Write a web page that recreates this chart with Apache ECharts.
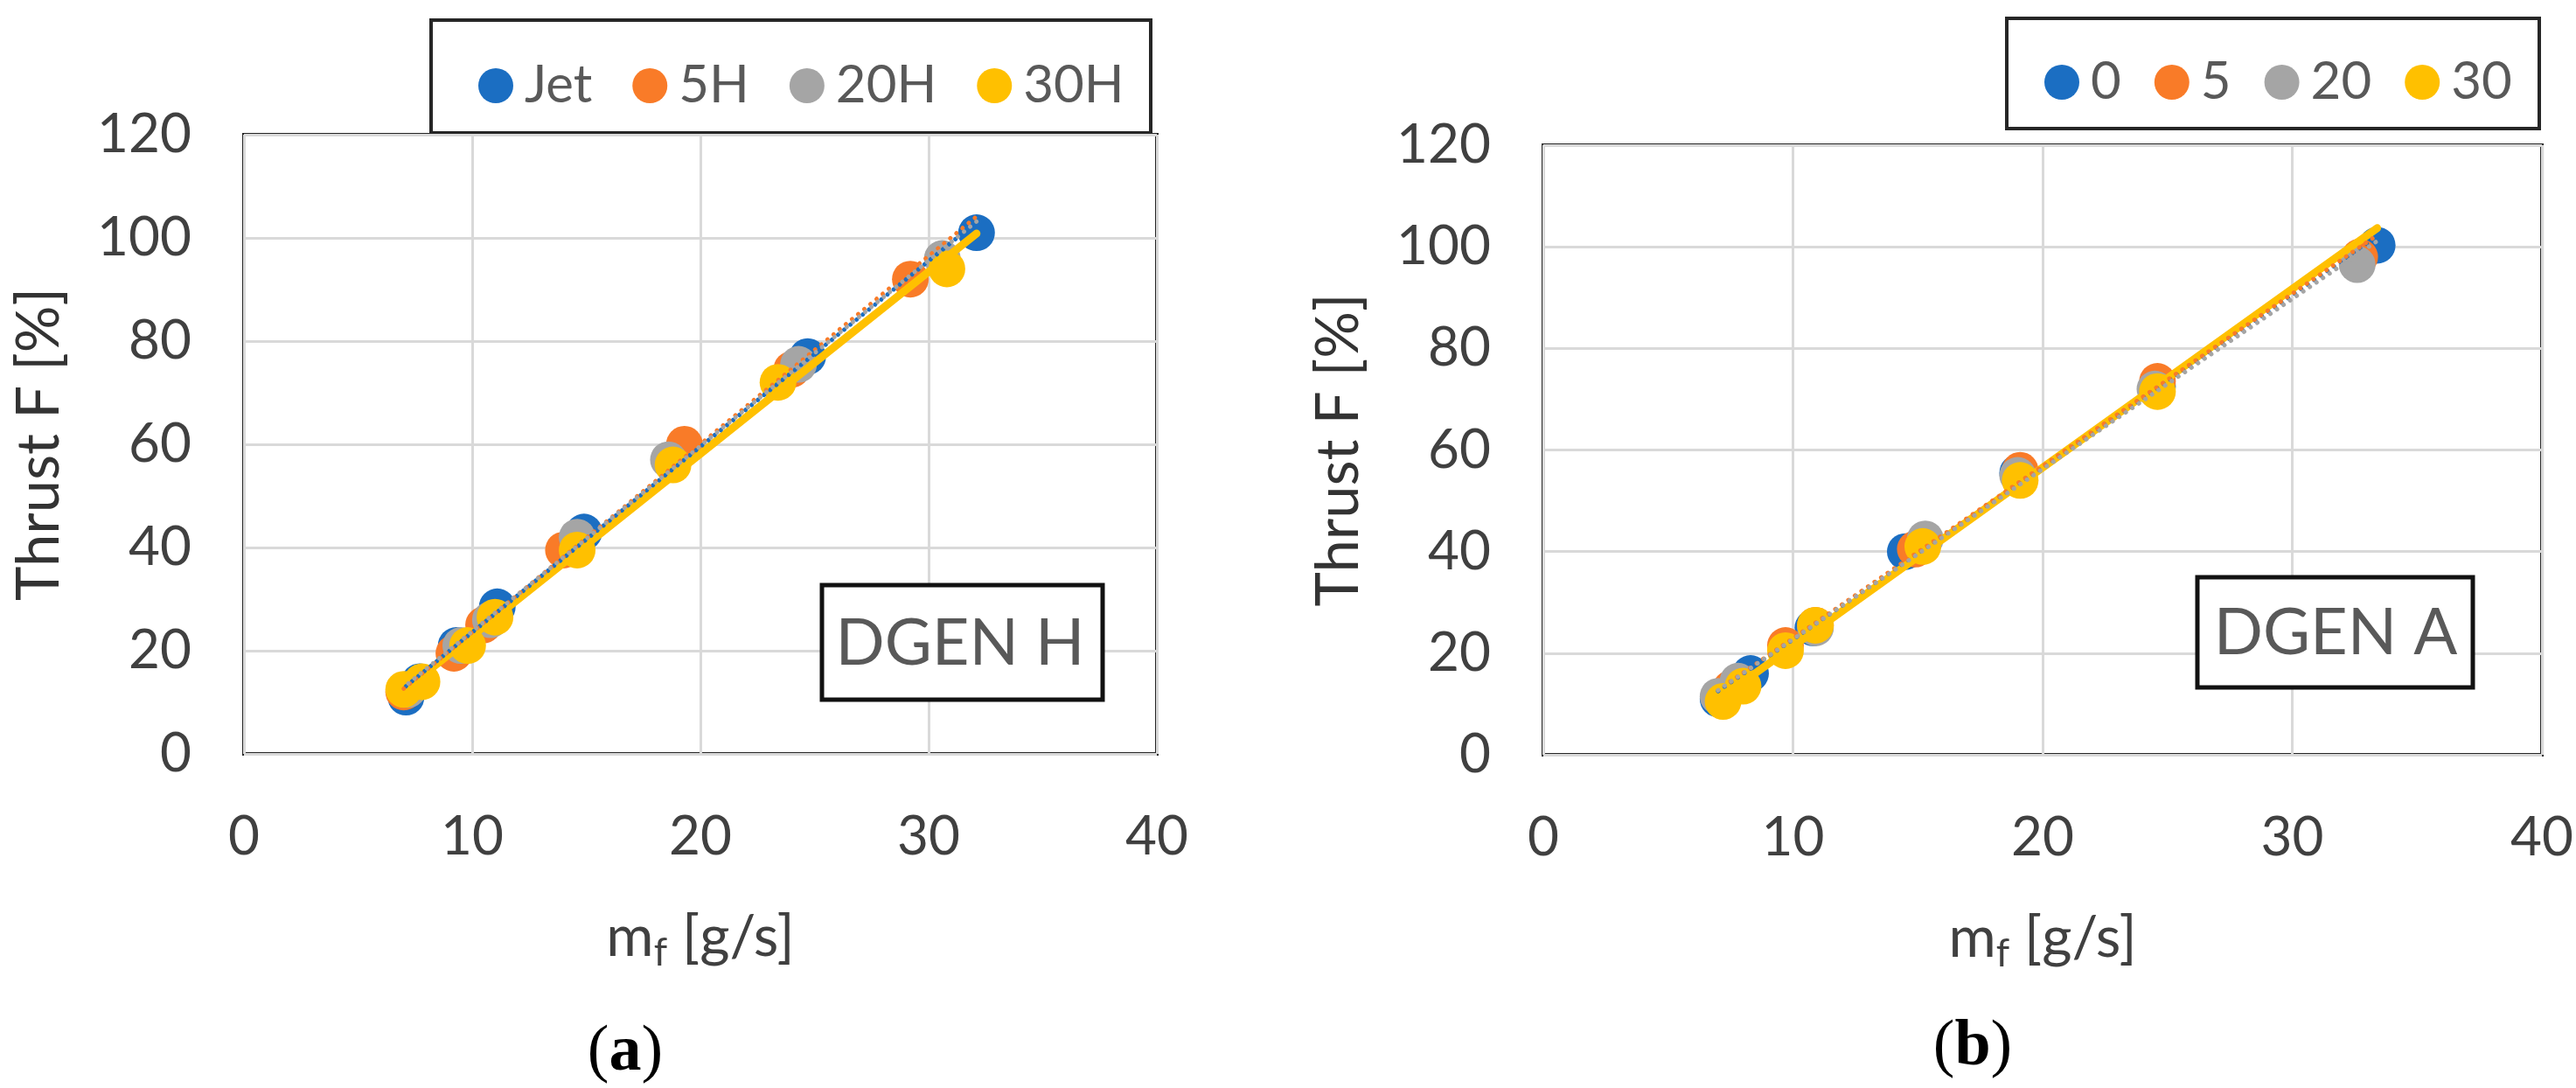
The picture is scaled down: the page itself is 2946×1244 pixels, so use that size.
<!DOCTYPE html>
<html><head><meta charset="utf-8">
<script src="https://cdn.jsdelivr.net/npm/echarts@6/dist/echarts.min.js"></script>
<style>html,body{margin:0;padding:0;background:#fff}#c{width:2946px;height:1244px}</style>
</head><body><div id="c"></div>
<script>
// ---- Data: chart (a) DGEN H ----
const namesA = ['Jet', '5H', '20H', '30H'];
const jetA  = [[7.1,11],[7.7,14],[9.3,21],[11.1,28.5],[14.9,43],[18.7,57],[24.7,77],[32.1,101]];
const h5A   = [[7.0,12],[9.2,19.5],[10.5,25],[14.0,39.5],[19.3,60],[24.0,74.5],[29.2,92]];
const h20A  = [[7.2,12.5],[9.5,21],[10.8,26],[14.6,42],[18.6,57],[24.3,75.5],[30.6,96]];
const h30A  = [[7.0,12.5],[7.8,14],[9.8,21],[11.0,26.5],[14.6,39.5],[18.8,56],[23.4,72],[30.8,94]];
// ---- Data: chart (b) DGEN A ----
const namesB = ['0', '5', '20', '30'];
const s0B   = [[7.0,11],[8.3,16],[10.8,25],[14.5,40],[19.0,55.5],[24.6,72.5],[33.4,100.3]];
const s5B   = [[7.5,13],[9.7,21.5],[10.9,25.5],[14.9,40.5],[19.1,56],[24.6,73.5],[32.7,98]];
const s20B  = [[7.0,11.5],[7.8,14.5],[10.9,25],[15.3,42.5],[19.0,55],[24.5,72],[32.6,96.5]];
const s30B  = [[7.2,10.5],[8.0,13.5],[9.7,20.5],[10.9,25.5],[15.2,41],[19.1,54],[24.6,71.5]];
// ---- Axis ticks ----
const xTicks = [0, 10, 20, 30, 40];
const yTicks = [0, 20, 40, 60, 80, 100, 120];
const labelsAB = ['DGEN H', 'DGEN A'];
const panelLabels = ['a', 'b'];

const colors = ['#1b6ec2', '#f97b28', '#a5a5a5', '#ffc000'];
const FONT = 'Lato';
const dataA = [jetA, h5A, h20A, h30A];
const dataB = [s0B, s5B, s20B, s30B];

function regress(pts) {
  const n = pts.length;
  let sx=0, sy=0, sxx=0, sxy=0;
  pts.forEach(p => { sx+=p[0]; sy+=p[1]; sxx+=p[0]*p[0]; sxy+=p[0]*p[1]; });
  const b = (n*sxy - sx*sy) / (n*sxx - sx*sx);
  const a = (sy - b*sx) / n;
  return [a, b];
}

const grids = [
  {left: 279, top: 154, width: 1044, height: 708},
  {left: 1765, top: 166, width: 1143, height: 697}
];

function makeAxes(i) {
  const x = {
    type: 'value', gridIndex: i, min: xTicks[0], max: xTicks[xTicks.length-1], interval: xTicks[1]-xTicks[0],
    axisLine: {show: false}, axisTick: {show: false},
    splitLine: {show: true, lineStyle: {color: '#d9d9d9', width: 3}},
    axisLabel: {color: '#404040', fontFamily: FONT, fontSize: 62, margin: 64},
    name: '{m|m}{s|f}{m| [g/s]}', nameLocation: 'middle', nameGap: 170,
    nameTextStyle: {
      color: '#404040', fontFamily: FONT,
      rich: {
        m: {fontSize: 66, fontFamily: FONT, color: '#404040', lineHeight: 80, verticalAlign: 'middle'},
        s: {fontSize: 44, fontFamily: FONT, color: '#404040', lineHeight: 40, verticalAlign: 'bottom'}
      }
    }
  };
  const y = {
    type: 'value', gridIndex: i, min: yTicks[0], max: yTicks[yTicks.length-1], interval: yTicks[1]-yTicks[0],
    axisLine: {show: false}, axisTick: {show: false},
    splitLine: {show: true, lineStyle: {color: '#d9d9d9', width: 3}},
    axisLabel: {color: '#404040', fontFamily: FONT, fontSize: 62, margin: 60},
    name: 'Thrust F [%]', nameLocation: 'middle', nameGap: 200, nameRotate: 90,
    nameTextStyle: {color: '#333', fontFamily: FONT, fontSize: 67}
  };
  return [x, y];
}
const axA = makeAxes(0), axB = makeAxes(1);

const series = [];
function addChart(i, names, data) {
  let xmax = -Infinity;
  data.forEach(d => d.forEach(p => { if (p[0] > xmax) xmax = p[0]; }));
  data.forEach((d, k) => {
    series.push({
      name: names[k], type: 'scatter', xAxisIndex: i, yAxisIndex: i,
      data: d, symbol: 'circle', symbolSize: 42, z: 2 + k,
      itemStyle: {color: colors[k], opacity: 1}, emphasis: {disabled: true}
    });
  });
  const order = [3, 0, 1, 2];
  order.forEach((k, j) => {
    const d = data[k];
    const [a, b] = regress(d);
    const xmin = Math.min(...d.map(p => p[0]));
    const solid = k === 3;
    series.push({
      name: names[k] + ' trend', type: 'line', xAxisIndex: i, yAxisIndex: i,
      data: [[xmin, a + b*xmin], [xmax, a + b*xmax]],
      symbol: 'none', silent: true, z: 20 + j,
      lineStyle: solid ? {color: colors[k], width: 9, cap: 'round'}
                       : {color: colors[k], width: 5, type: [0.1, 9], cap: 'round'}
    });
  });
}
addChart(0, namesA, dataA);
addChart(1, namesB, dataB);

const legendCommon = {
  orient: 'horizontal', icon: 'circle', itemWidth: 40, itemHeight: 44, padding: 0,
  selectedMode: false,
  textStyle: {color: '#595959', fontFamily: FONT, fontSize: 60, padding: [0, 0, 0, 8]}
};

const boxStroke = '#262626';
const graphic = [
  {type: 'rect', shape: {x: 493, y: 23, width: 823, height: 129}, style: {fill: '#fff', stroke: boxStroke, lineWidth: 4}, z: 0},
  {type: 'rect', shape: {x: 2295, y: 21, width: 609, height: 126}, style: {fill: '#fff', stroke: boxStroke, lineWidth: 4}, z: 0},
  {type: 'rect', shape: {x: 940, y: 669, width: 321, height: 131}, style: {fill: '#fff', stroke: '#111', lineWidth: 5}, z: 100},
  {type: 'text', x: 1098, y: 736, style: {text: labelsAB[0], fill: '#595959', font: '74px ' + FONT, textAlign: 'center', textVerticalAlign: 'middle'}, z: 101},
  {type: 'rect', shape: {x: 2513, y: 660, width: 315, height: 126}, style: {fill: '#fff', stroke: '#111', lineWidth: 5}, z: 100},
  {type: 'text', x: 2671, y: 724, style: {text: labelsAB[1], fill: '#595959', font: '74px ' + FONT, textAlign: 'center', textVerticalAlign: 'middle'}, z: 101},
  {type: 'text', x: 715, y: 1204, style: {
    text: '{p|(}{b|' + panelLabels[0] + '}{p|)}', textAlign: 'center', textVerticalAlign: 'middle',
    rich: {p: {font: '74px "Liberation Serif"', fill: '#000'}, b: {font: 'bold 74px "Liberation Serif"', fill: '#000'}}
  }},
  {type: 'text', x: 2256, y: 1198, style: {
    text: '{p|(}{b|' + panelLabels[1] + '}{p|)}', textAlign: 'center', textVerticalAlign: 'middle',
    rich: {p: {font: '74px "Liberation Serif"', fill: '#000'}, b: {font: 'bold 74px "Liberation Serif"', fill: '#000'}}
  }}
];

const chart = echarts.init(document.getElementById('c'), null, {renderer: 'canvas'});
chart.setOption({
  animation: false,
  backgroundColor: '#fff',
  grid: grids.map(g => Object.assign({show: true, borderColor: '#262626', borderWidth: 4, backgroundColor: 'transparent'}, g)),
  xAxis: [axA[0], axB[0]],
  yAxis: [axA[1], axB[1]],
  legend: [
    Object.assign({}, legendCommon, {data: namesA, left: 547, top: 68, itemGap: 46}),
    Object.assign({}, legendCommon, {data: namesB, left: 2338, top: 64, itemGap: 38})
  ],
  graphic: graphic,
  series: series
});
</script>
</body></html>
